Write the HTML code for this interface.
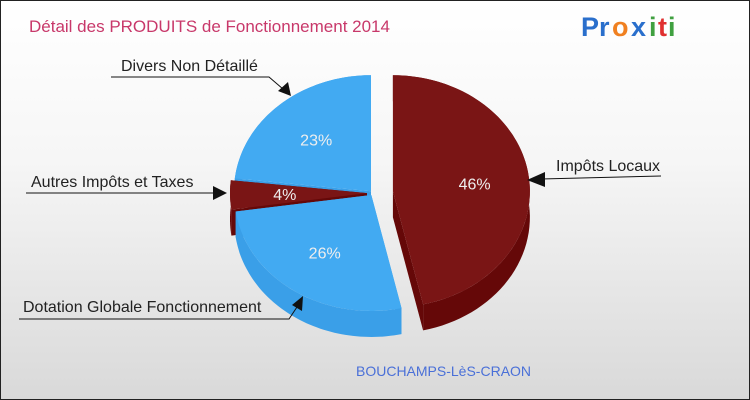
<!DOCTYPE html>
<html><head><meta charset="utf-8"><style>
body{margin:0}
#c{position:relative;width:748px;height:398px;border:1px solid #222;background:linear-gradient(#fff 0%,#f6f6f6 40%,#d9d9d9 100%);overflow:hidden;font-family:"Liberation Sans",sans-serif}
</style></head><body>
<div id="c">
<svg id="s" width="748" height="398" style="position:absolute;left:0;top:0">
<text x="28" y="31" font-size="17" fill="#c8386a">Détail des PRODUITS de Fonctionnement 2014</text>
<g font-size="27" font-weight="bold" font-family="Liberation Sans, sans-serif">
<text x="580" y="35" fill="#2a6fcc">P</text><text x="598" y="35" fill="#2a6fcc">r</text><text x="611" y="35" fill="#f08020">o</text><text x="630" y="35" fill="#2a6fcc">x</text><text x="648" y="35" fill="#40a040">i</text><text x="657" y="35" fill="#e03030">t</text><text x="667" y="35" fill="#40a040">i</text></g>
<g id="pie"></g>
<g id="labels" font-size="16" fill="#222">
<text x="555" y="170">Impôts Locaux</text>
<path d="M660 175 L540 178" stroke="#111" fill="none"/><path d="M526 179 L544 171 L544 186 Z" fill="#111"/>
<text x="120" y="70">Divers Non Détaillé</text>
<path d="M110 76 L268 76 L282 88" stroke="#111" fill="none"/><path d="M290 95 L277 90 L287 81 Z" fill="#111"/>
<text x="30" y="186">Autres Impôts et Taxes</text>
<path d="M25 192 L212 192" stroke="#111" fill="none"/><path d="M226 192 L212 185 L212 199 Z" fill="#111"/>
<text x="22" y="311">Dotation Globale Fonctionnement</text>
<path d="M18 318 L288 318 L296 306" stroke="#111" fill="none"/><path d="M302 295 L291 304 L301 310 Z" fill="#111"/>
</g>
<text x="355" y="375" font-size="14" fill="#4a70d8">BOUCHAMPS-LèS-CRAON</text>
</svg>
</div>
<script>
const categories=["Impôts Locaux","Dotation Globale Fonctionnement","Autres Impôts et Taxes","Divers Non Détaillé"];
const values=[46,26,4,23];
const pctLabels=["46%","26%","4%","23%"];
const tops=["#7a1515","#42aaf2","#7a1515","#42aaf2"];
const walls=["#650808","#3a9fe8","#650808","#3a9fe8"];
const explode=[20,3,6,3];
const cx=372,cy=192,rx=137,ry=116,depth=26;
const g=document.getElementById('pie');
const NS="http://www.w3.org/2000/svg";
const total=values.reduce((a,b)=>a+b,0);
let a=-Math.PI/2;const sl=[];
values.forEach((v,i)=>{const a1=a+v/total*2*Math.PI;const m=(a+a1)/2;sl.push({i,a0:a,a1,ox:Math.cos(m)*explode[i],oy:Math.sin(m)*explode[i]*0.8,m});a=a1;});
function pt(s,t,dz){return[cx+s.ox+rx*Math.cos(t),cy+s.oy+ry*Math.sin(t)+dz];}
function arc(s,t0,t1,dz,n){let p=[];for(let k=0;k<=n;k++){const t=t0+(t1-t0)*k/n;p.push(pt(s,t,dz));}return p;}
function poly(pts,fill,name){const e=document.createElementNS(NS,'path');e.setAttribute('d','M'+pts.map(p=>p[0].toFixed(1)+' '+p[1].toFixed(1)).join(' L')+' Z');e.setAttribute('fill',fill);


g.appendChild(e);}
const order=[...sl].sort((p,q)=>Math.sin(p.m)-Math.sin(q.m));
order.forEach(s=>{const c=[cx+s.ox,cy+s.oy];const w=walls[s.i];
poly([c,[c[0],c[1]+depth],pt(s,s.a0,depth),pt(s,s.a0,0)],w,'slice-side');
poly([c,[c[0],c[1]+depth],pt(s,s.a1,depth),pt(s,s.a1,0)],w,'slice-side');
poly(arc(s,s.a0,s.a1,0,60).concat(arc(s,s.a1,s.a0,depth,60)),w,'slice-wall');});
order.forEach(s=>{const c=[cx+s.ox,cy+s.oy];poly([c].concat(arc(s,s.a0,s.a1,0,80)),tops[s.i],'slice-top-'+s.i);
const t=document.createElementNS(NS,'text');const r=0.6;
t.setAttribute('x',(c[0]+rx*r*Math.cos(s.m)).toFixed(1));t.setAttribute('y',(c[1]+ry*r*Math.sin(s.m)+6).toFixed(1));
t.setAttribute('text-anchor','middle');t.setAttribute('font-size','16');t.setAttribute('fill','#eee');t.textContent=pctLabels[s.i];


g.appendChild(t);});
</script>
</body></html>
